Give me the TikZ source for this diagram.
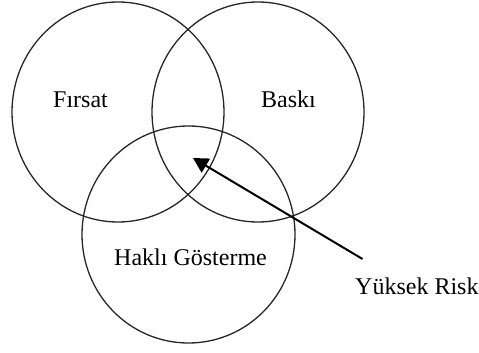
\documentclass[tikz,border=0pt]{standalone}
\usepackage{fontspec}
\setmainfont{Liberation Serif}
\usetikzlibrary{arrows.meta}
\begin{document}
\begin{tikzpicture}[x=1pt,y=-1pt,
  setcircle/.style={draw=black!85,line width=1.3pt},
  lbl/.style={inner sep=0pt,anchor=base,font=\fontsize{24}{28}\selectfont},
  pointer/.style={draw=black,line width=2pt,-{Triangle[length=15pt,width=16pt]}}]
\useasboundingbox (0,0) rectangle (479,353);
\draw[setcircle] (118,112) ellipse [x radius=106,y radius=110];
\draw[setcircle] (258,112) ellipse [x radius=106,y radius=110];
\draw[setcircle] (188.5,234.5) ellipse [x radius=106.5,y radius=108.5];
\node[lbl] (firsat) at (80.5,107) {Fırsat};
\node[lbl] (baski) at (288.5,107) {Baskı};
\node[lbl] (hakli) at (190.5,265.5) {Haklı Gösterme};
\node[lbl,anchor=base west] (risk) at (355,294) {Yüksek Risk};
\coordinate (start) at (362.5,259);
\coordinate (tip) at (193,158);
\draw[pointer] (start) -- (tip);
\end{tikzpicture}
\end{document}
